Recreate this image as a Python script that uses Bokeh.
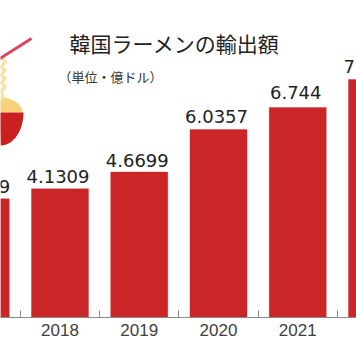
import numpy as np
from bokeh.plotting import figure
from bokeh.models import ColumnDataSource, FixedTicker, Range1d, Label
from bokeh.core.properties import value
from bokeh.embed import file_html
from bokeh.resources import INLINE

years = [2017, 2018, 2019, 2020, 2021, 2022]
exports = [3.81, 4.1309, 4.6699, 6.0357, 6.744, 7.64]
labels = ["3.8159", "4.1309", "4.6699", "6.0357", "6.744", "7.6441"]
tick_labels = {2017: "2017", 2018: "2018", 2019: "2019", 2020: "2020", 2021: "2021", 2022: "2022"}
title_text = "韓国ラーメンの輸出額"
unit_text = "（単位・億ドル）"

W, H = 356, 364
BASE = 317.0
SX, SY = 79.25, 31.15
X0 = 2018 - 59.5 / SX
fx = lambda px: X0 + np.asarray(px, dtype=float) / SX
fy = lambda py: (BASE - np.asarray(py, dtype=float)) / SY

p = figure(width=W, height=H, output_backend="svg", toolbar_location=None,
           x_range=Range1d(X0, X0 + W / SX), y_range=Range1d(0, BASE / SY),
           min_border=0, min_border_bottom=int(H - BASE), background_fill_color="white",
           border_fill_color="white", outline_line_color=None)
p.grid.visible = False
p.yaxis.visible = False

ax = p.xaxis[0]
ax.ticker = FixedTicker(ticks=years, minor_ticks=[y + 0.5 for y in [2016] + years])
ax.major_label_overrides = tick_labels
ax.major_tick_line_color = None
ax.major_tick_in = 0
ax.major_tick_out = 0
ax.minor_tick_in = 7
ax.minor_tick_out = 0
ax.minor_tick_line_color = "#8a8a8a"
ax.axis_line_color = "#8a8a8a"
ax.axis_line_width = 1.2
ax.major_label_standoff = 6
ax.major_label_text_font = "Liberation Sans"
ax.major_label_text_font_size = "17px"
ax.major_label_text_color = "#404040"

gap = np.array([12, 12, 12, 13, 15, 13]) / SY
src = ColumnDataSource(dict(x=years, top=exports, label=labels, ly=np.array(exports) + gap))
p.vbar(x="x", top="top", bottom=0, width=0.72, source=src,
       fill_color="#CA2527", line_color="#CA2527", line_alpha=0.35, line_width=1)
p.text(x="x", y="ly", text="label", source=src, x_offset=-2,
       text_align="center", text_baseline="alphabetic",
       text_font=value("DejaVu Sans"), text_font_size="18px", text_color="#222222")

# decorative noodle-bowl icon (pixel placement)
t = np.linspace(0, np.pi / 2, 30)
p.patch(fx(np.r_[-3, 22 * np.cos(t)]), fy(np.r_[112, 112 - 15 * np.sin(t)]), fill_color="#F6D27A", line_color=None)
p.line(fx([2, 5, 0, 5, 0, 5, 0, 5, 1, 3]), fy([58, 62, 66, 70, 74, 78, 82, 86, 90, 99]),
       line_color="#F7E3A6", line_width=3.5)
p.patch(fx(np.r_[-1, 23 * np.cos(t)]), fy(np.r_[112, 112 + 33 * np.sin(t)]), fill_color="#CA2020", line_color=None)
p.line(fx([-2, 31]), fy([59, 38]), line_color="#D8475F", line_width=3)

p.add_layout(Label(x=float(fx(69)), y=float(fy(42)), text=title_text, text_font="Noto Sans CJK JP",
                   text_font_size="21px", text_color="#222222", text_baseline="alphabetic"))
p.add_layout(Label(x=float(fx(58)), y=float(fy(76)), text=unit_text, text_font="Noto Sans CJK JP",
                   text_font_size="13px", text_color="#333333", text_baseline="alphabetic"))

open("out.html", "w").write(file_html(p, INLINE))
